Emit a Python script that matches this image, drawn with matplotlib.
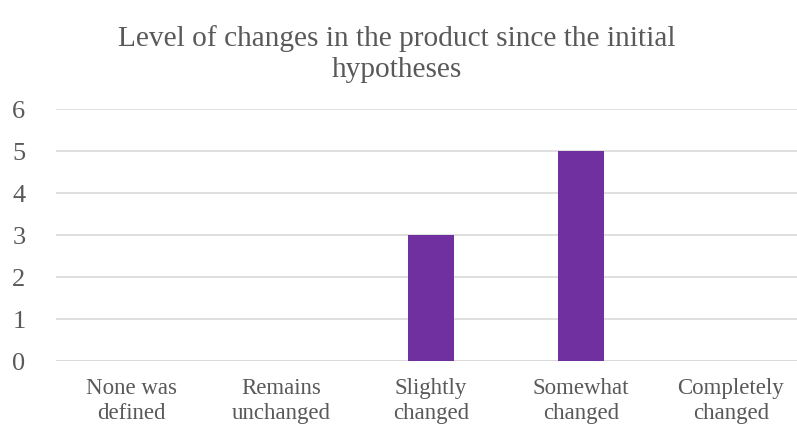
import matplotlib
matplotlib.use("Agg")
import matplotlib.pyplot as plt

categories = ["None was\ndefined", "Remains\nunchanged", "Slightly\nchanged", "Somewhat\nchanged", "Completely\nchanged"]
values = [0, 0, 3, 5, 0]
yticks = [0, 1, 2, 3, 4, 5, 6]
title = "Level of changes in the product since the initial\nhypotheses"

W, H = 797, 434
fig = plt.figure(figsize=(W / 100, H / 100), dpi=100)
plt.rcParams['font.family'] = ['Liberation Serif', 'DejaVu Serif']
ax = fig.add_axes([56 / W, (H - 361) / H, 750 / W, 252 / H])

x = list(range(len(categories)))
ax.bar(x, values, width=0.31, color="#7030A0", zorder=3)
ax.set_xlim(-0.5, len(categories) - 0.5)
ax.set_ylim(0, 6)
ax.set_yticks(yticks)
ax.set_xticks(x)
ax.set_xticklabels(categories, fontsize=16.5, color="#595959", linespacing=1.25)
ax.tick_params(axis='y', labelsize=19, colors="#595959", length=0, pad=22)
ax.tick_params(axis='x', length=0, pad=12)
for lab in ax.get_yticklabels():
    lab.set_color("#595959")
ax.grid(axis='y', color="#D9D9D9", linewidth=1.2, zorder=0)
for s in ax.spines.values():
    s.set_visible(False)
ax.axhline(0, color="#D9D9D9", linewidth=1.2, zorder=1)

fig.text(397 / W, 1 - 54 / H, title, ha='center', va='center', fontsize=21.2, color="#595959", linespacing=1.25)

fig.savefig("out.png", dpi=100)
